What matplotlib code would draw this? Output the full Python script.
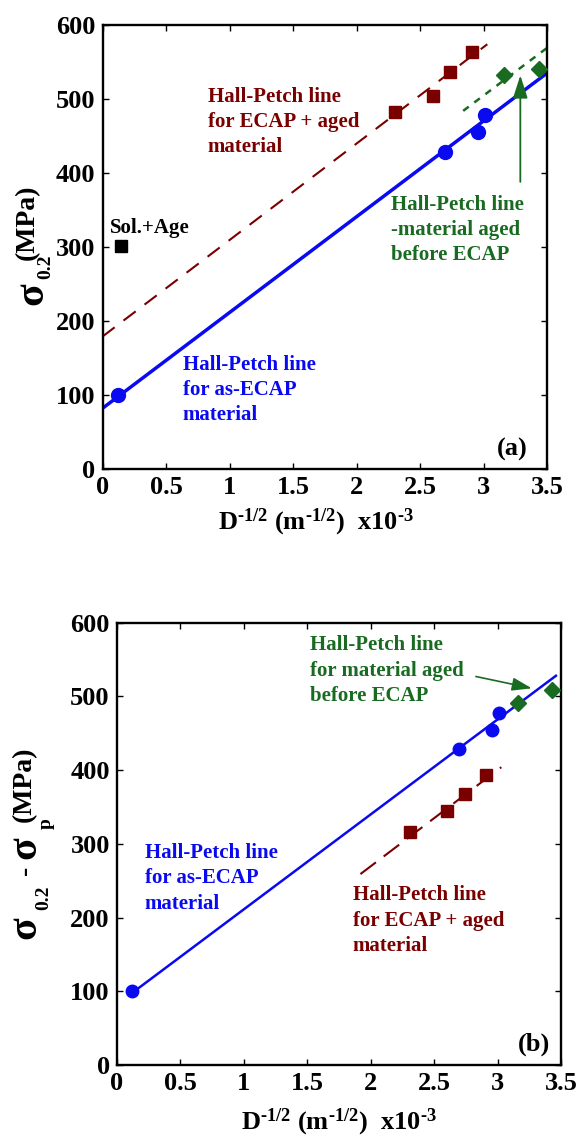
import matplotlib
matplotlib.use("Agg")
import matplotlib.pyplot as plt

W, H = 578, 1142
plt.rcParams["font.family"] = ["Liberation Serif", "DejaVu Serif"]
plt.rcParams["font.weight"] = "bold"
plt.rcParams["mathtext.fontset"] = "custom"
plt.rcParams["mathtext.rm"] = "Liberation Serif:bold"
plt.rcParams["mathtext.it"] = "Liberation Serif:bold"
plt.rcParams["mathtext.bf"] = "Liberation Serif:bold"
plt.rcParams["lines.scale_dashes"] = False

BLUE = "#0a0af0"
RED = "#7a0000"
GREEN = "#1a6b22"

# ---- data (a): sigma_0.2 ----
x_ecap = [0.12, 2.70, 2.96, 3.01]
y_ecap_a = [100, 429, 455, 478]
x_aged = [2.30, 2.60, 2.74, 2.91]
y_aged_a = [482, 504, 537, 564]
x_pre = [3.16, 3.44]
y_pre_a = [532, 540]
x_sol = [0.146]
y_sol = [301]
fit_ecap_a_x, fit_ecap_a_y = [0.0, 3.5], [82, 535]
fit_aged_a_x, fit_aged_a_y = [0.0, 3.03], [179, 574]
fit_pre_a_x, fit_pre_a_y = [2.84, 3.5], [484, 569]

# ---- data (b): sigma_0.2 - sigma_p ----
y_ecap_b = [101, 428, 455, 478]
x_aged_b = [2.31, 2.60, 2.74, 2.91]
y_aged_b = [316, 345, 367, 393]
x_pre_b = [3.16, 3.43]
y_pre_b = [491, 509]
fit_ecap_b_x, fit_ecap_b_y = [0.17, 3.46], [104, 528]
fit_aged_b_x, fit_aged_b_y = [1.92, 3.03], [259, 404]

xticks = [0, 0.5, 1, 1.5, 2, 2.5, 3, 3.5]
xticklabels = ["0", "0.5", "1", "1.5", "2", "2.5", "3", "3.5"]
yticks = [0, 100, 200, 300, 400, 500, 600]

XLABEL = r"D$^{\text{-1/2}}$ (m$^{\text{-1/2}}$)  x10$^{\text{-3}}$"

fig = plt.figure(figsize=(W / 100, H / 100), dpi=100)


def px_axes(x0, y0, x1, y1):
    return fig.add_axes([x0 / W, 1 - y1 / H, (x1 - x0) / W, (y1 - y0) / H])


def ftext(x, y, s, **kw):
    fig.text(x / W, 1 - y / H, s, **kw)


def style(ax):
    ax.set_xlim(0, 3.5)
    ax.set_ylim(0, 600)
    ax.set_xticks(xticks)
    ax.set_xticklabels(xticklabels)
    ax.set_yticks(yticks)
    ax.tick_params(direction="in", length=4, width=1, top=True, right=True,
                   labelsize=19, pad=5)
    for s in ax.spines.values():
        s.set_linewidth(1.7)


def note(ax, x, y, s, color):
    ax.text(x, y, s, fontsize=15, color=color, ha="left", va="center", linespacing=1.35)


# ================= panel (a) =================
ax = px_axes(102.5, 25, 547, 469)
style(ax)
ax.plot(fit_ecap_a_x, fit_ecap_a_y, color=BLUE, lw=2.5, zorder=2)
ax.plot(fit_aged_a_x, fit_aged_a_y, color=RED, lw=1.5, dashes=(11, 8), zorder=2)
ax.plot(fit_pre_a_x, fit_pre_a_y, color=GREEN, lw=1.8, dashes=(5, 5), zorder=2)
ax.plot(x_ecap, y_ecap_a, "o", color=BLUE, ms=10, zorder=3)
ax.plot(x_aged, y_aged_a, "s", color=RED, ms=9, zorder=3)
ax.plot(x_pre, y_pre_a, "D", color=GREEN, ms=8, zorder=3)
ax.plot(x_sol, y_sol, "s", color="black", ms=9, zorder=3)
ax.annotate("", xy=(3.29, 532), xytext=(3.29, 388),
            arrowprops=dict(arrowstyle="-|>,head_length=14,head_width=4.5",
                            mutation_scale=1, color=GREEN, lw=1.3, shrinkA=0, shrinkB=0))
ax.text(0.058, 326, "Sol.+Age", fontsize=15, color="black", ha="left", va="center")
note(ax, 0.83, 469, "Hall-Petch line\nfor ECAP + aged\nmaterial", RED)
note(ax, 2.27, 323, "Hall-Petch line\n-material aged\nbefore ECAP", GREEN)
note(ax, 0.63, 107, "Hall-Petch line\nfor as-ECAP\nmaterial", BLUE)
ax.text(3.23, 27, "(a)", fontsize=19, ha="center", va="center")

ftext(316, 522, XLABEL, fontsize=19, ha="center", va="center")
ftext(32, 294, "σ", fontsize=30, rotation=90, ha="center", va="center")
ftext(46, 267, "0.2", fontsize=14, rotation=90, ha="center", va="center")
ftext(27, 222, "(MPa)", fontsize=20, rotation=90, ha="center", va="center")

# ================= panel (b) =================
ax = px_axes(116.7, 622.7, 561, 1065)
style(ax)
ax.plot(fit_ecap_b_x, fit_ecap_b_y, color=BLUE, lw=1.8, zorder=2)
ax.plot(fit_aged_b_x, fit_aged_b_y, color=RED, lw=1.5, dashes=(14, 7), zorder=2)
ax.plot(x_ecap, y_ecap_b, "o", color=BLUE, ms=9, zorder=3)
ax.plot(x_aged_b, y_aged_b, "s", color=RED, ms=9, zorder=3)
ax.plot(x_pre_b, y_pre_b, "D", color=GREEN, ms=8, zorder=3)
ax.annotate("", xy=(3.27, 511), xytext=(2.83, 527),
            arrowprops=dict(arrowstyle="-|>,head_length=12,head_width=4",
                            mutation_scale=1, color=GREEN, lw=1.2, shrinkA=0, shrinkB=0))
note(ax, 1.52, 535, "Hall-Petch line\nfor material aged\nbefore ECAP", GREEN)
note(ax, 0.22, 253, "Hall-Petch line\nfor as-ECAP\nmaterial", BLUE)
note(ax, 1.86, 196, "Hall-Petch line\nfor ECAP + aged\nmaterial", RED)
ax.text(3.29, 28, "(b)", fontsize=19, ha="center", va="center")

ftext(339, 1122, XLABEL, fontsize=19, ha="center", va="center")
ftext(25, 928, "σ", fontsize=30, rotation=90, ha="center", va="center")
ftext(44, 898, "0.2", fontsize=14, rotation=90, ha="center", va="center")
ftext(25, 870, "-", fontsize=20, rotation=90, ha="center", va="center")
ftext(25, 848, "σ", fontsize=30, rotation=90, ha="center", va="center")
ftext(46, 824, "p", fontsize=14, rotation=90, ha="center", va="center")
ftext(24, 784, "(MPa)", fontsize=20, rotation=90, ha="center", va="center")

fig.savefig("out.png", dpi=100)
